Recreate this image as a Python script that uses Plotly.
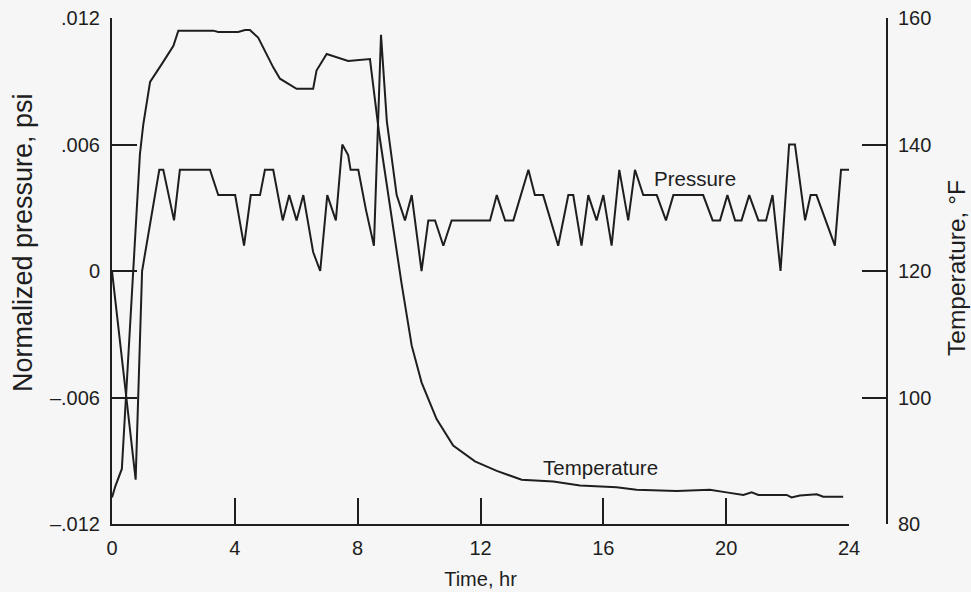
import plotly.graph_objects as go

# ---------------- data ----------------
time_pressure = [0, 0.77, 0.98, 1.54, 1.67, 2.02, 2.21, 3.19, 3.46, 4.01, 4.30, 4.52, 4.82, 4.98,
                 5.25, 5.56, 5.77, 6.01, 6.23, 6.55, 6.78, 7.01, 7.29, 7.50, 7.69, 7.77, 8.02, 8.27,
                 8.53, 8.76, 8.95, 9.27, 9.54, 9.76, 10.08, 10.30, 10.52, 10.79, 11.06, 12.31, 12.53,
                 12.80, 13.07, 13.56, 13.77, 14.04, 14.53, 14.86, 15.02, 15.29, 15.51, 15.78, 16.00,
                 16.27, 16.52, 16.81, 17.03, 17.30, 17.74, 18.04, 18.28, 19.25, 19.56, 19.80, 20.04,
                 20.29, 20.50, 20.75, 21.05, 21.30, 21.51, 21.77, 22.05, 22.24, 22.57, 22.75, 22.94,
                 23.54, 23.74, 24.0]
pressure = [0, -0.0099, 0.0, 0.0048, 0.0048, 0.0024, 0.0048, 0.0048, 0.0036, 0.0036, 0.0012, 0.0036,
            0.0036, 0.0048, 0.0048, 0.0024, 0.0036, 0.0024, 0.0036, 0.0009, 0.0, 0.0036, 0.0024,
            0.0060, 0.0055, 0.0048, 0.0048, 0.0029, 0.0012, 0.0112, 0.0071, 0.0036, 0.0024, 0.0036,
            0.0, 0.0024, 0.0024, 0.0012, 0.0024, 0.0024, 0.0036, 0.0024, 0.0024, 0.0048, 0.0036,
            0.0036, 0.0012, 0.0036, 0.0036, 0.0012, 0.0036, 0.0024, 0.0036, 0.0012, 0.0048, 0.0024,
            0.0048, 0.0036, 0.0036, 0.0024, 0.0036, 0.0036, 0.0024, 0.0024, 0.0036, 0.0024, 0.0024,
            0.0036, 0.0024, 0.0024, 0.0036, 0.0, 0.0060, 0.0060, 0.0024, 0.0036, 0.0036, 0.0012,
            0.0048, 0.0048]

time_temp = [0, 0.11, 0.32, 0.67, 0.91, 1.02, 1.24, 1.62, 2.0, 2.16, 3.30, 3.46, 4.11, 4.33, 4.49,
             4.76, 5.25, 5.47, 6.01, 6.55, 6.66, 6.99, 7.69, 8.40, 8.70, 9.43, 9.76, 10.08, 10.57,
             11.11, 11.82, 12.53, 13.34, 14.37, 15.24, 16.43, 17.08, 18.39, 19.47, 20.01, 20.56,
             20.83, 21.05, 21.97, 22.13, 22.40, 22.95, 23.16, 23.81]
temperature = [84.2, 86.0, 88.7, 118.7, 138.5, 143.2, 149.9, 152.7, 155.6, 158.0, 158.0, 157.8,
               157.8, 158.1, 158.1, 156.9, 152.2, 150.4, 148.8, 148.8, 151.7, 154.3, 153.2, 153.5,
               141.7, 118.0, 108.2, 102.4, 96.6, 92.4, 89.9, 88.4, 87.0, 86.7, 86.1, 85.8, 85.4,
               85.2, 85.4, 85.0, 84.6, 85.0, 84.6, 84.6, 84.2, 84.5, 84.7, 84.3, 84.3]

time_ticks = [0, 4, 8, 12, 16, 20, 24]
pressure_ticks = [-0.012, -0.006, 0, 0.006, 0.012]
pressure_tick_labels = ["–.012", "–.006", "0", ".006", ".012"]
temp_ticks = [80, 100, 120, 140, 160]

# ---------------- style ----------------
INK = "#1e1e1e"
BG = "#f6f6f6"
FONT = "Liberation Sans, Arial, Helvetica, sans-serif"

fig = go.Figure()
fig.add_trace(go.Scatter(x=time_pressure, y=pressure, mode="lines", yaxis="y",
                         line=dict(color=INK, width=2), showlegend=False, hoverinfo="skip"))
fig.add_trace(go.Scatter(x=time_temp, y=temperature, mode="lines", yaxis="y2",
                         line=dict(color=INK, width=2), showlegend=False, hoverinfo="skip"))

axis_common = dict(showgrid=False, zeroline=False, showline=True, linecolor=INK, linewidth=2,
                   ticks="inside", tickcolor=INK, tickwidth=2, automargin=False,
                   tickfont=dict(family=FONT, size=20, color=INK))

fig.update_layout(
    width=971, height=592,
    margin=dict(l=112, r=84, t=18, b=68),
    paper_bgcolor=BG, plot_bgcolor=BG,
    font=dict(family=FONT, size=20, color=INK),
    xaxis=dict(domain=[0, 737 / 775], range=[0, 24], tickvals=time_ticks, ticklen=26,
               ticklabelstandoff=5,
               title=dict(text="Time, hr", font=dict(family=FONT, size=20, color=INK), standoff=14),
               **axis_common),
    yaxis=dict(range=[-0.012, 0.012], tickvals=pressure_ticks, ticktext=pressure_tick_labels,
               ticklen=25, anchor="x", ticklabelstandoff=6, **axis_common),
    yaxis2=dict(range=[80, 160], tickvals=temp_ticks, ticklen=24, overlaying="y", side="right",
                anchor="free", position=1, ticklabelstandoff=6, **axis_common),
    annotations=[
        dict(text="Normalized pressure, psi", textangle=-90, xref="paper", yref="paper",
             x=(23 - 112) / 775, y=(524 - 243) / 506, xanchor="center", yanchor="middle",
             showarrow=False, font=dict(family=FONT, size=27, color=INK)),
        dict(text="Temperature, °F", textangle=-90, xref="paper", yref="paper",
             x=(956 - 112) / 775, y=(524 - 268) / 506, xanchor="center", yanchor="middle",
             showarrow=False, font=dict(family=FONT, size=24.5, color=INK)),
        dict(text="Pressure", xref="x", yref="y", x=19.0, y=0.0044, showarrow=False,
             font=dict(family=FONT, size=20.5, color=INK)),
        dict(text="Temperature", xref="x", yref="y", x=15.9, y=-0.0093, showarrow=False,
             font=dict(family=FONT, size=20.5, color=INK)),
    ],
)

fig.write_html("out.html", config={"displayModeBar": False},
               post_script="document.body.style.margin='0px';document.body.style.background='%s';" % BG)
